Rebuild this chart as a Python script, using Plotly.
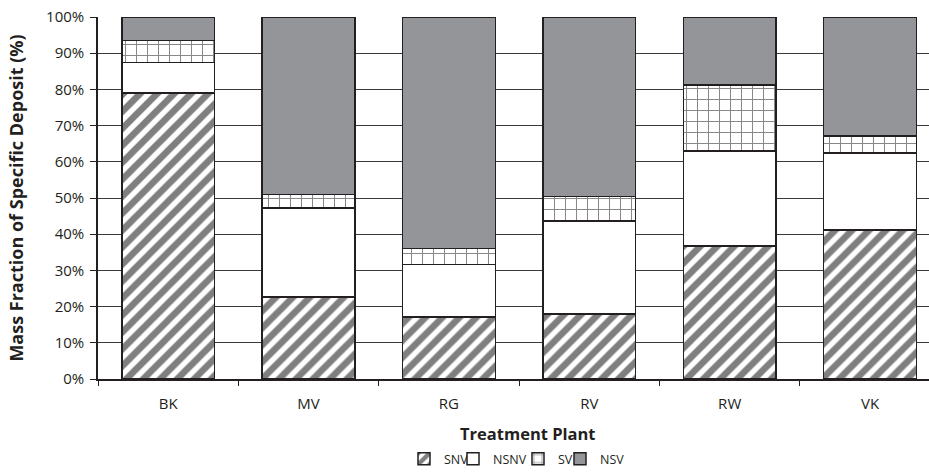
import plotly.graph_objects as go

categories = ["BK", "MV", "RG", "RV", "RW", "VK"]
snv = [79.0, 22.6, 17.1, 18.0, 36.8, 41.1]
nsnv = [8.5, 24.7, 14.6, 25.6, 26.2, 21.3]
sv = [6.0, 3.6, 4.4, 6.8, 18.2, 4.7]
nsv = [6.5, 49.1, 63.9, 49.6, 18.8, 32.9]
y_ticks = [0, 10, 20, 30, 40, 50, 60, 70, 80, 90, 100]
y_ticktext = [f"{v}%" for v in y_ticks]

FONT = "Open Sans"
TXT = "#231f20"
LINE = "#231f20"

W, H = 929, 474
ML, MT, MB = 98, 17, 93
PW = W - ML
PH = H - MT - MB


def px(x_page):
    return (x_page - ML) / PW


def py(y_page):
    return (H - MB - y_page) / PH


fig = go.Figure()
series = [
    ("SNV", snv, dict(shape="/", fgcolor="#000000", bgcolor="white", size=12, solidity=0.55), 443),
    ("NSNV", nsnv, None, 492),
    ("SV", sv, dict(shape="+", fgcolor="#111111", bgcolor="white", size=11, solidity=0.18), 557),
    ("NSV", nsv, None, 599),
]
colors = {"SNV": "white", "NSNV": "white", "SV": "white", "NSV": "#939598"}
legend_layout = {}
for i, (name, vals, pat, text_x) in enumerate(series):
    marker = dict(color=colors[name], line=dict(color=LINE, width=1.5))
    if pat:
        marker["pattern"] = pat
    lg = "legend" if i == 0 else f"legend{i + 1}"
    fig.add_trace(go.Bar(x=categories, y=vals, name=name, marker=marker, width=0.66,
                         legend=lg))
    legend_layout[lg] = dict(x=px(text_x - 39), xanchor="left", y=py(462), yanchor="middle",
                             orientation="h", font=dict(size=12.5, color=TXT),
                             itemwidth=30, bgcolor="rgba(0,0,0,0)", borderwidth=0)

fig.update_layout(
    barmode="stack",
    width=W, height=H,
    margin=dict(l=ML, r=0, t=MT, b=MB),
    paper_bgcolor="white", plot_bgcolor="white",
    font=dict(family=FONT, size=13, color=TXT),
    showlegend=True,
    xaxis=dict(range=[-0.5, 5.42], showline=True, linecolor=LINE, linewidth=1.5,
               ticks="outside", tickson="boundaries", ticklen=5, tickcolor=LINE,
               tickfont=dict(size=15, color=TXT), showgrid=False, fixedrange=True,
               automargin=False, ticklabelstandoff=10),
    yaxis=dict(range=[0, 100], tickvals=y_ticks, ticktext=y_ticktext,
               showline=True, linecolor=LINE, linewidth=1.5,
               ticks="outside", ticklen=6, tickcolor=LINE,
               showgrid=True, gridcolor="#3a3a3a", gridwidth=1.2,
               tickfont=dict(size=15, color=TXT), automargin=False, ticklabelstandoff=3,
               title=dict(text="<b>Mass Fraction of Specific Deposit (%)</b>",
                          font=dict(size=18, color=TXT), standoff=18)),
    annotations=[dict(text="<b>Treatment Plant</b>", xref="paper", yref="paper",
                      x=px(528), y=py(436), xanchor="center", yanchor="middle",
                      showarrow=False, font=dict(size=16.5, color=TXT))],
    **legend_layout,
)

fig.write_html("out.html", config={"displayModeBar": False},
               post_script="document.body.style.margin='0px';")
